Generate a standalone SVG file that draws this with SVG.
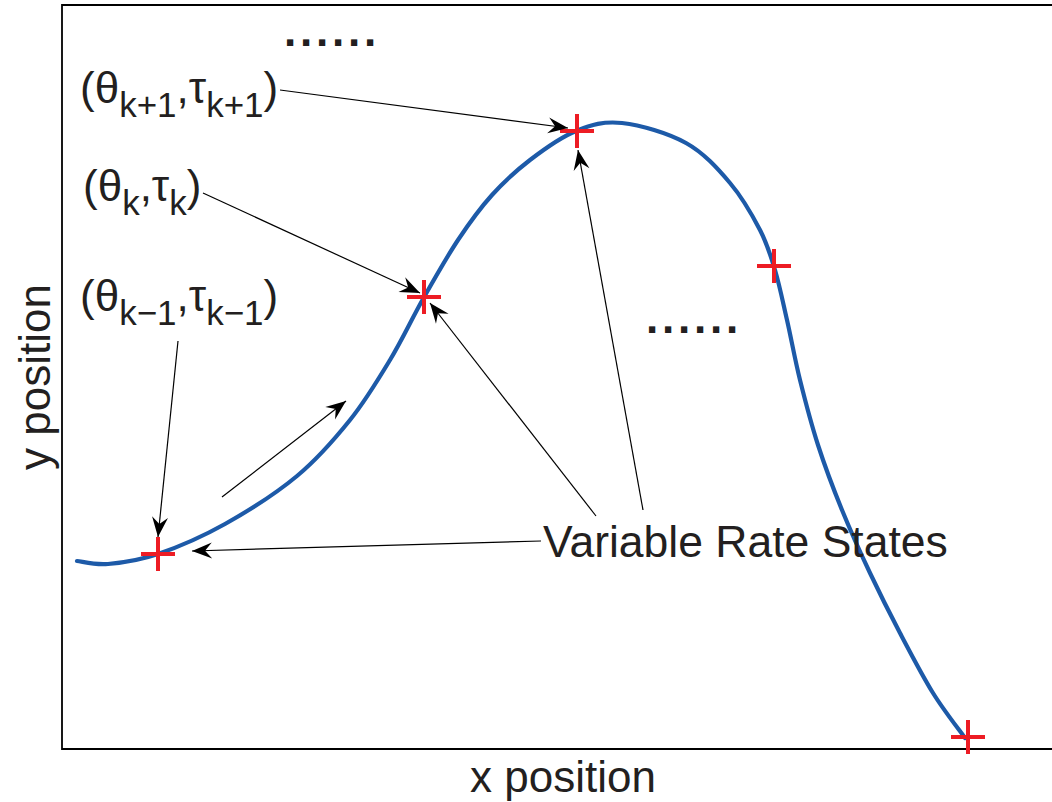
<svg xmlns="http://www.w3.org/2000/svg" width="1052" height="802" viewBox="0 0 1052 802">
<defs>
<style>
text{font-family:"Liberation Sans",Arial,sans-serif;fill:#231f20}
.lbl{font-size:44px}
.sub{font-size:35px}
.dots{font-size:44px;font-weight:bold}
.frame{stroke:#000;stroke-width:1.8;fill:none}
.curve{stroke:#1d5aa8;stroke-width:4.2;fill:none;stroke-linecap:round}
.cross{stroke:#ed1c24;stroke-width:4;fill:none}
.conn{stroke:#000;stroke-width:1.2;fill:none;marker-end:url(#ah)}
</style>
<marker id="ah" markerUnits="userSpaceOnUse" markerWidth="24" markerHeight="20" viewBox="-21 -10 24 20" refX="0" refY="0" orient="auto">
<path d="M0,0 L-20,-8 L-13,0 L-20,8 Z" fill="#000"/>
</marker>
</defs>
<rect width="1052" height="802" fill="#fff"/>
<g id="axes">
<path class="frame" d="M1052,5 H62 V749 H1052"/>
<text id="xlabel" class="lbl" x="563" y="792" text-anchor="middle">x position</text>
<text id="ylabel" class="lbl" x="0" y="0" text-anchor="middle" transform="translate(50,377) rotate(-90)">y position</text>
</g>
<g id="trajectory">
<path class="curve" d="M77,561 C82.2,561.5 94.5,565.2 108,564 C121.5,562.8 138.5,560.7 158,554 C177.5,547.3 201.8,537 225,524 C248.2,511 276.2,493.3 297,476 C317.8,458.7 334.5,439.3 350,420 C365.5,400.7 377.8,380.2 390,360 C402.2,339.8 411.7,319 423,299 C434.3,279 446.5,257.3 458,240 C469.5,222.7 480,208.3 492,195 C504,181.7 516,170.7 530,160 C544,149.3 560.7,137.2 576,131 C591.3,124.8 603.7,121 622,123 C640.3,125 668,133 686,143 C704,153 717.7,168.5 730,183 C742.3,197.5 752.5,215.5 760,230 C767.5,244.5 770.5,255 775,270 C779.5,285 782.8,301.7 787,320 C791.2,338.3 794.8,359.2 800,380 C805.2,400.8 811,423.3 818,445 C825,466.7 833.3,488.7 842,510 C850.7,531.3 860.3,552.5 870,573 C879.7,593.5 889.5,613 900,633 C910.5,653 922.2,675.5 933,693 C943.8,710.5 959.7,730.5 965,738"/>
</g>
<g id="states">
<path class="cross" d="M141,554 H175 M158,537 V571"/>
<path class="cross" d="M407,297 H441 M424,280 V314"/>
<path class="cross" d="M560,131 H594 M577,114 V148"/>
<path class="cross" d="M757,266 H791 M774,249 V283"/>
<path class="cross" d="M951,737 H985 M968,720 V754"/>
</g>
<g id="connectors">
<path class="conn" d="M280,90 L568,128"/>
<path class="conn" d="M203,193 L420,293"/>
<path class="conn" d="M178,341 L158,537"/>
<path class="conn" d="M222,497 L346,401"/>
<path class="conn" d="M541,541 L192,551"/>
<path class="conn" d="M596,516 L430,303"/>
<path class="conn" d="M643,510 L578,150"/>
</g>
<g id="label-k1">
<text class="lbl" x="80" y="103">(θ<tspan class="sub" dy="14">k+1</tspan><tspan dy="-14">,τ</tspan><tspan class="sub" dy="14">k+1</tspan><tspan dy="-14">)</tspan></text>
</g>
<g id="label-k">
<text class="lbl" x="83" y="201">(θ<tspan class="sub" dy="14">k</tspan><tspan dy="-14">,τ</tspan><tspan class="sub" dy="14">k</tspan><tspan dy="-14">)</tspan></text>
</g>
<g id="label-km1">
<text class="lbl" x="80" y="311">(θ<tspan class="sub" dy="14">k−1</tspan><tspan dy="-14">,τ</tspan><tspan class="sub" dy="14">k−1</tspan><tspan dy="-14">)</tspan></text>
</g>
<g id="label-vrs">
<text class="lbl" x="543" y="557" style="font-size:44.5px">Variable Rate States</text>
</g>
<g id="ellipsis-top">
<text class="dots" x="284" y="46" letter-spacing="3.8">......</text>
</g>
<g id="ellipsis-mid">
<text class="dots" x="646" y="333" letter-spacing="3.8">......</text>
</g>
</svg>
